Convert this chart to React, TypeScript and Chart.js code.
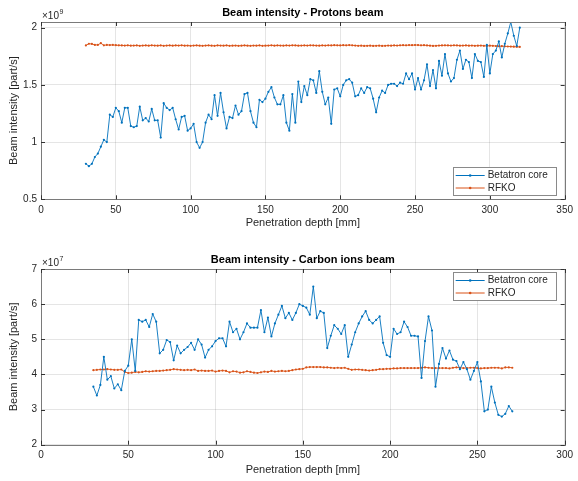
import React, { useEffect, useRef } from "react";
import { Chart, registerables } from "chart.js";
Chart.register(...registerables);

// ---------- Data ----------
const protonDepth = [
  30, 32, 34, 36, 38, 40, 42, 44, 46, 48, 50, 52, 54, 56, 58, 60, 62, 64, 66, 68,
  70, 72, 74, 76, 78, 80, 82, 84, 86, 88, 90, 92, 94, 96, 98, 100, 102, 104, 106, 108,
  110, 112, 114, 116, 118, 120, 122, 124, 126, 128, 130, 132, 134, 136, 138, 140, 142, 144, 146, 148,
  150, 152, 154, 156, 158, 160, 162, 164, 166, 168, 170, 172, 174, 176, 178, 180, 182, 184, 186, 188,
  190, 192, 194, 196, 198, 200, 202, 204, 206, 208, 210, 212, 214, 216, 218, 220, 222, 224, 226, 228,
  230, 232, 234, 236, 238, 240, 242, 244, 246, 248, 250, 252, 254, 256, 258, 260, 262, 264, 266, 268,
  270, 272, 274, 276, 278, 280, 282, 284, 286, 288, 290, 292, 294, 296, 298, 300, 302, 304, 306, 308,
  310, 312, 314, 316, 318, 320,
];
const protonBetatron = [
  0.81, 0.79, 0.81, 0.87, 0.9, 0.96, 1.02, 1.0, 1.24, 1.22, 1.3, 1.27, 1.17, 1.3, 1.3, 1.14, 1.13, 1.14, 1.31, 1.19,
  1.21, 1.18, 1.29, 1.19, 1.19, 1.04, 1.34, 1.3, 1.28, 1.3, 1.2, 1.11, 1.22, 1.23, 1.1, 1.12, 1.16, 1.0, 0.95, 1.0,
  1.17, 1.24, 1.2, 1.41, 1.23, 1.43, 1.26, 1.12, 1.22, 1.21, 1.32, 1.24, 1.27, 1.42, 1.43, 1.27, 1.17, 1.13, 1.37, 1.35,
  1.38, 1.44, 1.48, 1.39, 1.33, 1.33, 1.41, 1.17, 1.1, 1.42, 1.17, 1.53, 1.35, 1.49, 1.41, 1.55, 1.54, 1.43, 1.62, 1.44,
  1.33, 1.39, 1.16, 1.46, 1.47, 1.4, 1.5, 1.54, 1.55, 1.52, 1.4, 1.41, 1.47, 1.43, 1.48, 1.47, 1.38, 1.26, 1.39, 1.45,
  1.43, 1.5, 1.51, 1.51, 1.49, 1.52, 1.51, 1.6, 1.55, 1.6, 1.46, 1.56, 1.46, 1.54, 1.68, 1.49, 1.63, 1.47, 1.71, 1.58,
  1.77, 1.6, 1.53, 1.56, 1.72, 1.8, 1.64, 1.72, 1.7, 1.56, 1.77, 1.71, 1.7, 1.57, 1.85, 1.6, 1.77, 1.8, 1.88, 1.74,
  1.86, 1.95, 2.05, 1.93, 1.84, 2.0,
];
const protonRfko = [
  1.845, 1.86, 1.858, 1.85, 1.85, 1.865, 1.846, 1.85, 1.848, 1.85, 1.847, 1.846, 1.845, 1.844, 1.846, 1.843, 1.844, 1.845, 1.842, 1.844,
  1.845, 1.843, 1.846, 1.844, 1.843, 1.845, 1.842, 1.844, 1.845, 1.843, 1.845, 1.844, 1.846, 1.843, 1.844, 1.842, 1.844, 1.845, 1.843, 1.842,
  1.844, 1.845, 1.843, 1.842, 1.845, 1.844, 1.843, 1.845, 1.842, 1.843, 1.844, 1.842, 1.843, 1.845, 1.843, 1.842, 1.844, 1.843, 1.845, 1.842,
  1.843, 1.844, 1.846, 1.843, 1.845, 1.844, 1.843, 1.845, 1.844, 1.846, 1.845, 1.843, 1.844, 1.845, 1.844, 1.846, 1.845, 1.844, 1.843, 1.845,
  1.844, 1.846, 1.845, 1.847, 1.846, 1.845, 1.847, 1.846, 1.848, 1.846, 1.844, 1.842, 1.843, 1.841, 1.842, 1.843, 1.841, 1.842, 1.843, 1.841,
  1.842, 1.844, 1.843, 1.845, 1.844, 1.846, 1.847, 1.846, 1.848, 1.847, 1.849, 1.848, 1.846, 1.847, 1.845, 1.843, 1.841, 1.842, 1.844, 1.845,
  1.846, 1.845, 1.844, 1.846, 1.845, 1.843, 1.844, 1.845, 1.843, 1.844, 1.842, 1.843, 1.844, 1.842, 1.841, 1.843, 1.842, 1.84, 1.838, 1.839,
  1.837, 1.836, 1.835, 1.834, 1.833, 1.832,
];

const carbonDepth = [
  30, 32, 34, 36, 38, 40, 42, 44, 46, 48, 50, 52, 54, 56, 58, 60, 62, 64, 66, 68,
  70, 72, 74, 76, 78, 80, 82, 84, 86, 88, 90, 92, 94, 96, 98, 100, 102, 104, 106, 108,
  110, 112, 114, 116, 118, 120, 122, 124, 126, 128, 130, 132, 134, 136, 138, 140, 142, 144, 146, 148,
  150, 152, 154, 156, 158, 160, 162, 164, 166, 168, 170, 172, 174, 176, 178, 180, 182, 184, 186, 188,
  190, 192, 194, 196, 198, 200, 202, 204, 206, 208, 210, 212, 214, 216, 218, 220, 222, 224, 226, 228,
  230, 232, 234, 236, 238, 240, 242, 244, 246, 248, 250, 252, 254, 256, 258, 260, 262, 264, 266, 268,
  270,
];
const carbonBetatron = [
  3.65, 3.4, 3.7, 4.5, 3.85, 3.95, 3.6, 3.72, 3.55, 4.1, 4.25, 5.0, 4.1, 5.55, 5.5, 5.55, 5.35, 5.72, 5.5, 4.6,
  4.7, 4.98, 4.92, 4.4, 4.82, 4.6, 4.7, 4.78, 4.9, 4.7, 5.0, 4.85, 4.48, 4.7, 4.8, 4.95, 5.03, 5.03, 4.8, 5.5,
  5.2, 5.3, 5.0, 5.2, 5.45, 5.33, 5.33, 5.33, 5.83, 5.2, 5.62, 5.08, 5.45, 5.7, 5.95, 5.6, 5.75, 5.55, 5.75, 6.0,
  5.95, 5.9, 5.7, 6.5, 5.6, 5.8, 5.75, 4.75, 5.1, 5.4, 5.3, 5.15, 5.4, 4.5, 4.85, 5.2, 5.45, 5.65, 5.8, 5.55,
  5.45, 5.55, 5.65, 4.9, 4.55, 4.5, 5.3, 5.15, 5.2, 5.5, 5.35, 5.1, 5.1, 5.08, 3.9, 4.95, 5.65, 5.25, 3.65, 4.3,
  4.75, 4.45, 4.68, 4.42, 4.38, 4.15, 4.35, 4.15, 3.85, 4.1, 4.35, 3.8, 2.95, 3.0, 3.65, 3.2, 2.85, 2.8, 2.88, 3.1,
  2.95,
];
const carbonRfko = [
  4.12, 4.13, 4.14, 4.14, 4.15, 4.14, 4.13, 4.13, 4.14, 4.07, 4.04, 4.05, 4.07, 4.06, 4.07, 4.09, 4.08, 4.09, 4.1, 4.1,
  4.11, 4.12, 4.13, 4.15, 4.14, 4.13, 4.12, 4.13, 4.12, 4.14, 4.1, 4.11, 4.1, 4.1, 4.11, 4.08, 4.1, 4.11, 4.1, 4.06,
  4.09, 4.08, 4.05, 4.06, 4.09, 4.07, 4.05, 4.04, 4.06, 4.08, 4.07, 4.1, 4.08, 4.09, 4.1, 4.09, 4.1, 4.12, 4.14, 4.15,
  4.16, 4.2, 4.21, 4.21, 4.21, 4.21, 4.2, 4.2, 4.19, 4.18, 4.19, 4.18, 4.19, 4.16, 4.13, 4.14, 4.14, 4.13, 4.12, 4.11,
  4.12, 4.13, 4.15, 4.15, 4.16, 4.16, 4.17, 4.17, 4.18, 4.18, 4.18, 4.18, 4.18, 4.18, 4.19, 4.2, 4.19, 4.18, 4.18, 4.18,
  4.18, 4.18, 4.17, 4.19, 4.2, 4.19, 4.18, 4.18, 4.19, 4.19, 4.18, 4.17, 4.18, 4.18, 4.19, 4.19, 4.19, 4.17, 4.2, 4.2,
  4.19,
];

const protonXTicks = [0, 50, 100, 150, 200, 250, 300, 350];
const protonYTicks = [0.5, 1, 1.5, 2];
const carbonXTicks = [0, 50, 100, 150, 200, 250, 300];
const carbonYTicks = [2, 3, 4, 5, 6, 7];

const seriesNames = ["Betatron core", "RFKO"];
const titles = ["Beam intensity - Protons beam", "Beam intensity - Carbon ions beam"];
const xLabel = "Penetration depth [mm]";
const yLabel = "Beam intensity [part/s]";

// ---------- Styles ----------
const BLUE = "#0072BD";
const ORANGE = "#D95319";
const FONT = "'Liberation Sans', Arial, Helvetica, sans-serif";
const TEXT = "#262626";
const W = 578;

type Panel = {
  height: number;
  depth: number[];
  betatron: number[];
  rfko: number[];
  xMin: number; xMax: number; yMin: number; yMax: number;
  xTicks: number[]; yTicks: number[];
  exponent: string;
  title: string;
  padTop: number;
  xAxisH: number;
  titleY: number;
  xLabelY: number;
  legendTop: number;
};

function framePlugin(p: Panel) {
  return {
    id: "frame",
    afterDraw(chart: any) {
      const ctx = chart.ctx as CanvasRenderingContext2D;
      const a = chart.chartArea;
      const xs = chart.scales.x, ys = chart.scales.y;
      ctx.save();
      // box
      ctx.strokeStyle = "#7a7a7a";
      ctx.lineWidth = 1;
      ctx.strokeRect(Math.round(a.left) + 0.5, Math.round(a.top) + 0.5, Math.round(a.right - a.left), Math.round(a.bottom - a.top));
      // inward ticks
      ctx.strokeStyle = "#333";
      ctx.beginPath();
      for (const v of p.xTicks) {
        const x = Math.round(xs.getPixelForValue(v)) + 0.5;
        ctx.moveTo(x, a.top); ctx.lineTo(x, a.top + 4);
        ctx.moveTo(x, a.bottom); ctx.lineTo(x, a.bottom - 4);
      }
      for (const v of p.yTicks) {
        const y = Math.round(ys.getPixelForValue(v)) + 0.5;
        ctx.moveTo(a.left, y); ctx.lineTo(a.left + 4, y);
        ctx.moveTo(a.right, y); ctx.lineTo(a.right - 4, y);
      }
      ctx.stroke();
      // title
      ctx.fillStyle = "#000";
      ctx.font = `bold 11px ${FONT}`;
      ctx.textAlign = "center";
      ctx.textBaseline = "middle";
      const cx = (a.left + a.right) / 2;
      ctx.fillText(p.title, cx, p.titleY);
      // x label
      ctx.fillStyle = TEXT;
      ctx.font = `11px ${FONT}`;
      ctx.fillText(xLabel, cx, p.xLabelY);
      // y label
      ctx.save();
      ctx.translate(14, (a.top + a.bottom) / 2);
      ctx.rotate(-Math.PI / 2);
      ctx.fillText(yLabel, 0, 0);
      ctx.restore();
      // exponent
      ctx.textAlign = "left";
      ctx.textBaseline = "alphabetic";
      ctx.font = `10px ${FONT}`;
      const ex = a.left + 1, ey = a.top - 3;
      ctx.fillText("\u00d710", ex, ey);
      const w = ctx.measureText("\u00d710").width;
      ctx.font = `7px ${FONT}`;
      ctx.fillText(p.exponent, ex + w + 0.5, ey - 5);
      // legend
      const lw = 103, lh = 28;
      const lx = a.right - 9 - lw;
      const ly = p.legendTop;
      ctx.fillStyle = "#fff";
      ctx.fillRect(lx, ly, lw, lh);
      ctx.strokeStyle = "#8a8a8a";
      ctx.strokeRect(Math.round(lx) + 0.5, Math.round(ly) + 0.5, lw, lh);
      const cols = [BLUE, ORANGE];
      ctx.font = `10px ${FONT}`;
      ctx.textBaseline = "middle";
      for (let i = 0; i < 2; i++) {
        const yy = ly + 8.5 + i * 12.5;
        ctx.strokeStyle = cols[i];
        ctx.lineWidth = 1;
        ctx.beginPath();
        ctx.moveTo(lx + 3, yy); ctx.lineTo(lx + 32, yy);
        ctx.stroke();
        ctx.fillStyle = cols[i];
        ctx.beginPath();
        ctx.arc(lx + 17.5, yy, 1.3, 0, Math.PI * 2);
        ctx.fill();
        ctx.fillStyle = TEXT;
        ctx.fillText(seriesNames[i], lx + 35, yy);
      }
      ctx.restore();
    },
  };
}

function makeConfig(p: Panel): any {
  const tickFont = { family: FONT, size: 10 };
  const fmt = (v: any) => String(Number(v));
  return {
    type: "line",
    data: {
      datasets: [
        {
          label: seriesNames[0],
          data: p.depth.map((x, i) => ({ x, y: p.betatron[i] })),
          borderColor: BLUE,
          backgroundColor: BLUE,
          borderWidth: 0.9,
          pointRadius: 1.1,
          pointBorderWidth: 0,
          pointHoverRadius: 0,
          tension: 0,
        },
        {
          label: seriesNames[1],
          data: p.depth.map((x, i) => ({ x, y: p.rfko[i] })),
          borderColor: ORANGE,
          backgroundColor: ORANGE,
          borderWidth: 0.9,
          pointRadius: 1.1,
          pointBorderWidth: 0,
          pointHoverRadius: 0,
          tension: 0,
        },
      ],
    },
    options: {
      animation: false,
      responsive: false,
      events: [],
      layout: { padding: { left: 0, right: 11, top: p.padTop, bottom: 0 } },
      plugins: { legend: { display: false }, tooltip: { enabled: false }, title: { display: false } },
      scales: {
        x: {
          type: "linear",
          min: p.xMin,
          max: p.xMax,
          afterBuildTicks: (s: any) => { s.ticks = p.xTicks.map((v) => ({ value: v })); },
          afterFit: (s: any) => { s.height = p.xAxisH; },
          grid: { color: "rgba(0,0,0,0.1)", drawTicks: false },
          border: { display: false },
          ticks: { font: tickFont, color: TEXT, padding: 5, maxRotation: 0, autoSkip: false, callback: fmt },
        },
        y: {
          type: "linear",
          min: p.yMin,
          max: p.yMax,
          afterBuildTicks: (s: any) => { s.ticks = p.yTicks.map((v) => ({ value: v })); },
          afterFit: (s: any) => { s.width = 41; },
          grid: { color: "rgba(0,0,0,0.1)", drawTicks: false },
          border: { display: false },
          ticks: { font: tickFont, color: TEXT, padding: 4, autoSkip: false, callback: fmt },
        },
      },
    },
    plugins: [framePlugin(p)],
  };
}

const panels: Panel[] = [
  {
    height: 240,
    depth: protonDepth, betatron: protonBetatron, rfko: protonRfko,
    xMin: 0, xMax: 350, yMin: 0.5, yMax: 2.05,
    xTicks: protonXTicks, yTicks: protonYTicks,
    exponent: "9", title: titles[0],
    padTop: 22, xAxisH: 40.7, titleY: 13, xLabelY: 223, legendTop: 167,
  },
  {
    height: 241,
    depth: carbonDepth, betatron: carbonBetatron, rfko: carbonRfko,
    xMin: 0, xMax: 300, yMin: 2, yMax: 7,
    xTicks: carbonXTicks, yTicks: carbonYTicks,
    exponent: "7", title: titles[1],
    padTop: 29, xAxisH: 36.3, titleY: 19.5, xLabelY: 230, legendTop: 32,
  },
];

function PanelChart({ p }: { p: Panel }) {
  const ref = useRef<HTMLCanvasElement | null>(null);
  useEffect(() => {
    if (!ref.current) return;
    const chart = new Chart(ref.current, makeConfig(p));
    return () => chart.destroy();
  }, [p]);
  return <canvas ref={ref} width={W} height={p.height} style={{ display: "block", width: W, height: p.height }} />;
}

export default function App() {
  return (
    <div style={{ position: "absolute", left: 0, top: 0, width: W, height: 481, background: "#fff" }}>
      {panels.map((p, i) => (
        <PanelChart key={i} p={p} />
      ))}
    </div>
  );
}
